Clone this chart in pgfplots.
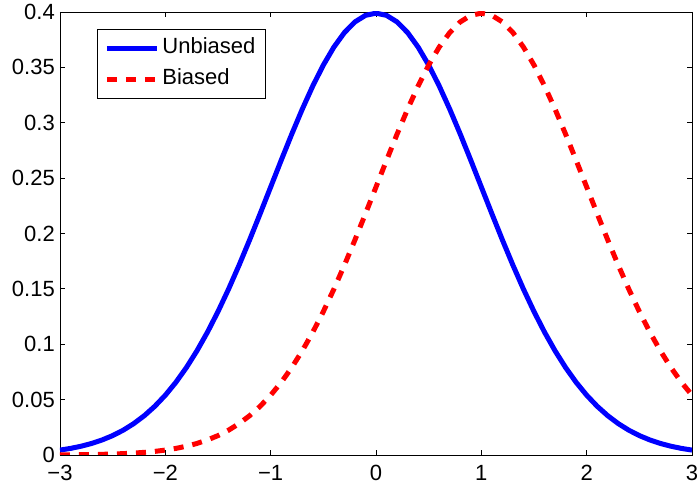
\documentclass[border=0pt]{standalone}
\usepackage{fontspec}
\setmainfont{Liberation Sans}
\usepackage{pgfplots}
\pgfplotsset{compat=1.18}

% normal density, mean 0 and mean 1, sampled every 0.1
\pgfplotstableread{
x y
-3.0 0.004432
-2.9 0.005953
-2.8 0.007915
-2.7 0.010421
-2.6 0.013583
-2.5 0.017528
-2.4 0.022395
-2.3 0.028327
-2.2 0.035475
-2.1 0.043984
-2.0 0.053991
-1.9 0.065616
-1.8 0.078950
-1.7 0.094049
-1.6 0.110921
-1.5 0.129518
-1.4 0.149727
-1.3 0.171369
-1.2 0.194186
-1.1 0.217852
-1.0 0.241971
-0.9 0.266085
-0.8 0.289692
-0.7 0.312254
-0.6 0.333225
-0.5 0.352065
-0.4 0.368270
-0.3 0.381388
-0.2 0.391043
-0.1 0.396953
0.0 0.398942
0.1 0.396953
0.2 0.391043
0.3 0.381388
0.4 0.368270
0.5 0.352065
0.6 0.333225
0.7 0.312254
0.8 0.289692
0.9 0.266085
1.0 0.241971
1.1 0.217852
1.2 0.194186
1.3 0.171369
1.4 0.149727
1.5 0.129518
1.6 0.110921
1.7 0.094049
1.8 0.078950
1.9 0.065616
2.0 0.053991
2.1 0.043984
2.2 0.035475
2.3 0.028327
2.4 0.022395
2.5 0.017528
2.6 0.013583
2.7 0.010421
2.8 0.007915
2.9 0.005953
3.0 0.004432
}\unbiased

\pgfplotstableread{
x y
-3.0 0.000134
-2.9 0.000199
-2.8 0.000292
-2.7 0.000425
-2.6 0.000612
-2.5 0.000873
-2.4 0.001232
-2.3 0.001723
-2.2 0.002384
-2.1 0.003267
-2.0 0.004432
-1.9 0.005953
-1.8 0.007915
-1.7 0.010421
-1.6 0.013583
-1.5 0.017528
-1.4 0.022395
-1.3 0.028327
-1.2 0.035475
-1.1 0.043984
-1.0 0.053991
-0.9 0.065616
-0.8 0.078950
-0.7 0.094049
-0.6 0.110921
-0.5 0.129518
-0.4 0.149727
-0.3 0.171369
-0.2 0.194186
-0.1 0.217852
0.0 0.241971
0.1 0.266085
0.2 0.289692
0.3 0.312254
0.4 0.333225
0.5 0.352065
0.6 0.368270
0.7 0.381388
0.8 0.391043
0.9 0.396953
1.0 0.398942
1.1 0.396953
1.2 0.391043
1.3 0.381388
1.4 0.368270
1.5 0.352065
1.6 0.333225
1.7 0.312254
1.8 0.289692
1.9 0.266085
2.0 0.241971
2.1 0.217852
2.2 0.194186
2.3 0.171369
2.4 0.149727
2.5 0.129518
2.6 0.110921
2.7 0.094049
2.8 0.078950
2.9 0.065616
3.0 0.053991
}\biased

\begin{document}
\begin{tikzpicture}
\begin{axis}[
    name=ax,
    scale only axis,
    width=632pt,
    height=443pt,
    xmin=-3, xmax=3,
    ymin=0, ymax=0.4,
    xtick={-3,-2,-1,0,1,2,3},
    xticklabels={−3,−2,−1,0,1,2,3},
    ytick={0,0.05,0.1,0.15,0.2,0.25,0.3,0.35,0.4},
    yticklabels={0,0.05,0.1,0.15,0.2,0.25,0.3,0.35,0.4},
    tick align=inside,
    major tick length=5pt,
    tick style={black, line width=0.8pt},
    axis line style={line width=0.9pt},
    ticklabel style={font=\fontsize{22}{26}\selectfont},
    xticklabel style={inner xsep=2pt, inner ysep=0pt, yshift=-10pt},
    yticklabel style={inner xsep=5pt, inner ysep=0pt},
    /pgf/number format/assume math mode=true,
    legend style={at={(0.0585,0.9616)}, anchor=north west,
        font=\fontsize{22}{26}\selectfont, draw=black, line width=0.9pt,
        inner xsep=7pt, inner ysep=5.5pt, row sep=4pt,
        nodes={inner sep=3pt, text height=16pt, text depth=5pt}},
    legend cell align=left,
    legend image code/.code={\draw[#1] (0pt,0pt) -- (50pt,0pt);},
]
\addplot[blue, line width=5pt, line join=round] table {\unbiased};
\addplot[red, line width=5pt, dash pattern=on 10pt off 9pt] table {\biased};
\legend{Unbiased, Biased}
\end{axis}
\pgfresetboundingbox
\path[use as bounding box] ([xshift=-60pt,yshift=-34pt]ax.south west)
    rectangle ([xshift=6pt,yshift=12pt]ax.north east);
\end{tikzpicture}
\end{document}
